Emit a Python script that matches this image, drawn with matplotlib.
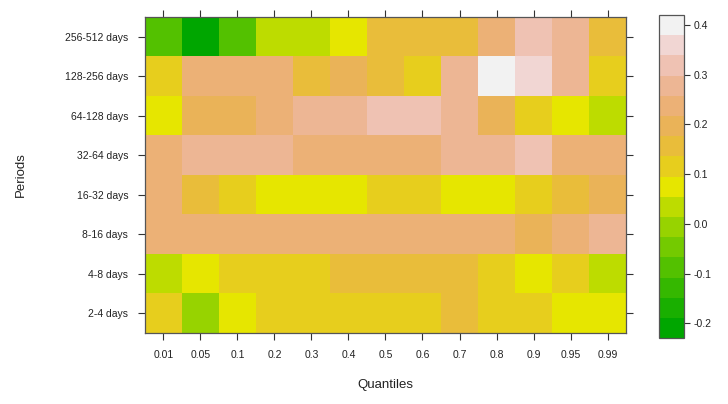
import colorsys
import numpy as np
import matplotlib
matplotlib.use('Agg')
import matplotlib.pyplot as plt
from matplotlib.colors import ListedColormap, BoundaryNorm

plt.rcParams['font.family'] = ['Liberation Sans', 'DejaVu Sans']

quantiles = ['0.01', '0.05', '0.1', '0.2', '0.3', '0.4', '0.5', '0.6', '0.7', '0.8', '0.9', '0.95', '0.99']
periods = ['2-4 days', '4-8 days', '8-16 days', '16-32 days', '32-64 days',
           '64-128 days', '128-256 days', '256-512 days']

# one list per period, values read across the quantiles
p2_4 = [0.12, 0.00, 0.06, 0.11, 0.11, 0.11, 0.11, 0.11, 0.15, 0.11, 0.11, 0.06, 0.06]
p4_8 = [0.02, 0.06, 0.11, 0.11, 0.11, 0.15, 0.15, 0.15, 0.15, 0.11, 0.06, 0.12, 0.02]
p8_16 = [0.22, 0.25, 0.25, 0.25, 0.22, 0.22, 0.22, 0.22, 0.22, 0.25, 0.21, 0.25, 0.27]
p16_32 = [0.23, 0.15, 0.12, 0.06, 0.06, 0.06, 0.11, 0.11, 0.06, 0.06, 0.12, 0.15, 0.19]
p32_64 = [0.23, 0.27, 0.27, 0.27, 0.23, 0.23, 0.23, 0.23, 0.26, 0.26, 0.31, 0.23, 0.23]
p64_128 = [0.06, 0.19, 0.19, 0.22, 0.27, 0.27, 0.31, 0.31, 0.26, 0.19, 0.11, 0.07, 0.03]
p128_256 = [0.12, 0.23, 0.23, 0.23, 0.16, 0.20, 0.15, 0.11, 0.26, 0.41, 0.35, 0.26, 0.11]
p256_512 = [-0.09, -0.21, -0.09, 0.03, 0.03, 0.07, 0.15, 0.15, 0.15, 0.24, 0.32, 0.27, 0.16]

z = np.array([p2_4, p4_8, p8_16, p16_32, p32_64, p64_128, p128_256, p256_512])


def terrain_colors(n):
    # same recipe as R's terrain.colors()
    k = n // 2
    cols = []
    hs = np.linspace(4 / 12, 2 / 12, k)
    vs = np.linspace(0.65, 0.9, k)
    for h, v in zip(hs, vs):
        cols.append(colorsys.hsv_to_rgb(h, 1.0, v))
    hs = np.linspace(2 / 12, 0, n - k + 1)[1:]
    ss = np.linspace(1, 0, n - k + 1)[1:]
    vs = np.linspace(0.9, 0.95, n - k + 1)[1:]
    for h, s, v in zip(hs, ss, vs):
        cols.append(colorsys.hsv_to_rgb(h, s, v))
    return cols


levels = np.linspace(-0.23, 0.42, 17)
cmap = ListedColormap(terrain_colors(16))
norm = BoundaryNorm(levels, cmap.N)

fig = plt.figure(figsize=(7.28, 4.04), dpi=100)
ax = fig.add_axes([0.199, 0.176, 0.661, 0.782])
mesh = ax.pcolormesh(np.arange(len(quantiles) + 1), np.arange(len(periods) + 1), z,
                     cmap=cmap, norm=norm)

ax.set_xticks(np.arange(len(quantiles)) + 0.5)
ax.set_xticklabels(quantiles)
ax.set_yticks(np.arange(len(periods)) + 0.5)
ax.set_yticklabels(periods)
ax.tick_params(direction='out', length=5, width=0.8, color='#333333',
               labelsize=7.5, labelcolor='#222222', top=True, right=True, pad=7)
for s in ax.spines.values():
    s.set_color('#555555')
    s.set_linewidth(0.9)

ax.set_xlabel('Quantiles', fontsize=9.5, color='#222222', labelpad=14)
ax.set_ylabel('Periods', fontsize=9.5, color='#222222', labelpad=27)

cax = fig.add_axes([0.905, 0.163, 0.034, 0.80])
cb = fig.colorbar(mesh, cax=cax, ticks=[-0.2, -0.1, 0.0, 0.1, 0.2, 0.3, 0.4])
cb.ax.minorticks_off()
cb.ax.set_yticklabels(['-0.2', '-0.1', '0.0', '0.1', '0.2', '0.3', '0.4'])
cb.ax.tick_params(direction='out', length=4, width=0.8, color='#333333',
                  labelsize=7.5, labelcolor='#222222', pad=3)
cb.outline.set_edgecolor('#555555')
cb.outline.set_linewidth(0.9)

fig.savefig('out.png', dpi=100)
